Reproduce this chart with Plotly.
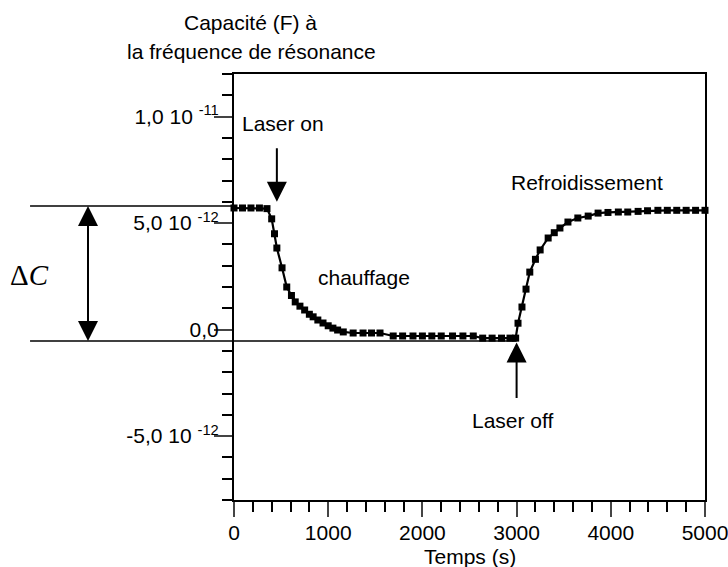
import plotly.graph_objects as go

# Time (s)
time_s = [0, 90, 180, 270, 350, 400, 430, 455, 510, 560, 610, 650, 700, 750, 800, 840,
          890, 945, 1000, 1050, 1100, 1160, 1265, 1370, 1460, 1550, 1690, 1790, 1900,
          2000, 2100, 2200, 2320, 2430, 2540, 2640, 2740, 2840, 2930, 2990, 3015, 3057,
          3100, 3140, 3200, 3250, 3335, 3400, 3460, 3545, 3650, 3760, 3865, 3970, 4080,
          4180, 4290, 4390, 4500, 4600, 4700, 4800, 4900, 5000]
# Capacitance in units of 1e-12 F
cap_pF = [5.71, 5.71, 5.71, 5.71, 5.68, 5.2, 4.5, 3.83, 2.9, 2.0, 1.6, 1.3, 1.1, 0.92, 0.72, 0.6,
          0.45, 0.31, 0.18, 0.07, -0.02, -0.11, -0.16, -0.16, -0.16, -0.16, -0.3, -0.3, -0.3,
          -0.3, -0.3, -0.3, -0.3, -0.3, -0.3, -0.4, -0.4, -0.4, -0.4, -0.4, 0.3, 1.06,
          1.9, 2.7, 3.3, 3.74, 4.3, 4.55, 4.77, 5.05, 5.24, 5.33, 5.47, 5.5, 5.52,
          5.52, 5.55, 5.58, 5.6, 5.6, 5.6, 5.6, 5.6, 5.6]

y_tickvals = [-5, 0, 5, 10]
y_ticktext = ["-5,0 10&nbsp;<sup>-12</sup>", "0,0",
              "5,0 10&nbsp;<sup>-12</sup>", "1,0 10&nbsp;<sup>-11</sup>"]
x_tickvals = [0, 1000, 2000, 3000, 4000, 5000]

level_high = 5.8
level_low = -0.54

FONT = "Liberation Sans, Arial, sans-serif"
FS = 21

fig = go.Figure()
fig.add_trace(go.Scatter(
    x=time_s, y=cap_pF, mode="lines+markers",
    line=dict(color="black", width=2.2),
    marker=dict(symbol="square", size=7, color="black"),
    cliponaxis=False, showlegend=False))

fig.update_layout(
    width=728, height=567,
    margin=dict(l=234, r=23, t=74, b=67),
    paper_bgcolor="white", plot_bgcolor="white",
    font=dict(family=FONT, size=FS, color="black"),
    xaxis=dict(range=[0, 5000], tickvals=x_tickvals, ticks="outside", ticklen=15,
               tickwidth=2, showline=True, linewidth=2, linecolor="black", mirror=True,
               showgrid=False, zeroline=False, automargin=False, ticklabelstandoff=-2,
               ticklabeloverflow="allow",
               minor=dict(tickmode="linear", tick0=0, dtick=200, ticks="outside",
                          ticklen=10, tickwidth=2, tickcolor="black")),
    yaxis=dict(range=[-8, 12], tickvals=y_tickvals, ticktext=y_ticktext,
               ticks="outside", ticklen=18, tickwidth=2, showline=True, linewidth=2,
               linecolor="black", mirror=True, showgrid=False, zeroline=False,
               automargin=False, ticklabelstandoff=-9, ticklabeloverflow="allow",
               minor=dict(tickmode="linear", tick0=0, dtick=1, ticks="outside",
                          ticklen=10, tickwidth=2, tickcolor="black")),
)

# reference lines for Delta C
fig.add_shape(type="line", xref="paper", yref="y", x0=-0.433, x1=0,
              y0=level_high, y1=level_high, line=dict(color="black", width=1.5))
fig.add_shape(type="line", xref="paper", yref="y", x0=-0.433, x1=0,
              y0=level_low, y1=level_low, line=dict(color="black", width=1.5))
fig.add_shape(type="line", xref="x", yref="y", x0=0, x1=3000,
              y0=level_low, y1=level_low, line=dict(color="black", width=1.5))
# double-arrow shaft
dx = (88 - 234) / 471
fig.add_shape(type="line", xref="paper", yref="y", x0=dx, x1=dx,
              y0=level_low + 0.5, y1=level_high - 0.5, line=dict(color="black", width=2))

anns = []
# title lines
anns.append(dict(text="Capacité (F) à", xref="paper", yref="paper", x=(250-234)/471,
                 y=(500-23)/426, showarrow=False, xanchor="center", yanchor="middle"))
anns.append(dict(text="la fréquence de résonance", xref="paper", yref="paper",
                 x=(251-234)/471, y=(500-51)/426, showarrow=False,
                 xanchor="center", yanchor="middle"))
anns.append(dict(text="Temps (s)", xref="paper", yref="paper", x=0.5,
                 y=(500-556)/426, showarrow=False, xanchor="center", yanchor="middle"))
# labels
anns.append(dict(text="Laser on", xref="paper", yref="paper", x=(283-234)/471,
                 y=(500-123)/426, showarrow=False, xanchor="center", yanchor="middle"))
anns.append(dict(text="chauffage", xref="paper", yref="paper", x=(364-234)/471,
                 y=(500-277)/426, showarrow=False, xanchor="center", yanchor="middle"))
anns.append(dict(text="Refroidissement", xref="paper", yref="paper", x=(587-234)/471,
                 y=(500-182)/426, showarrow=False, xanchor="center", yanchor="middle"))
anns.append(dict(text="Laser off", xref="paper", yref="paper", x=(513-234)/471,
                 y=(500-420)/426, showarrow=False, xanchor="center", yanchor="middle"))
anns.append(dict(text="Δ<i>C</i>", xref="paper", yref="paper", x=(29-234)/471,
                 y=(500-275)/426, showarrow=False, xanchor="center", yanchor="middle",
                 font=dict(family="Liberation Serif, Times New Roman, serif", size=29)))
# arrows
arrow = dict(text="", showarrow=True, arrowhead=2, arrowsize=2, arrowwidth=2,
             arrowcolor="black", ax=0)
anns.append(dict(arrow, xref="x", yref="y", x=455, y=6.0, ay=-55))
anns.append(dict(arrow, xref="x", yref="y", x=3000, y=-0.6, ay=57))
anns.append(dict(arrow, xref="paper", yref="y", x=dx, y=level_high, ay=40))
anns.append(dict(arrow, xref="paper", yref="y", x=dx, y=level_low, ay=-40))
fig.update_layout(annotations=anns)

fig.write_html("out.html")
